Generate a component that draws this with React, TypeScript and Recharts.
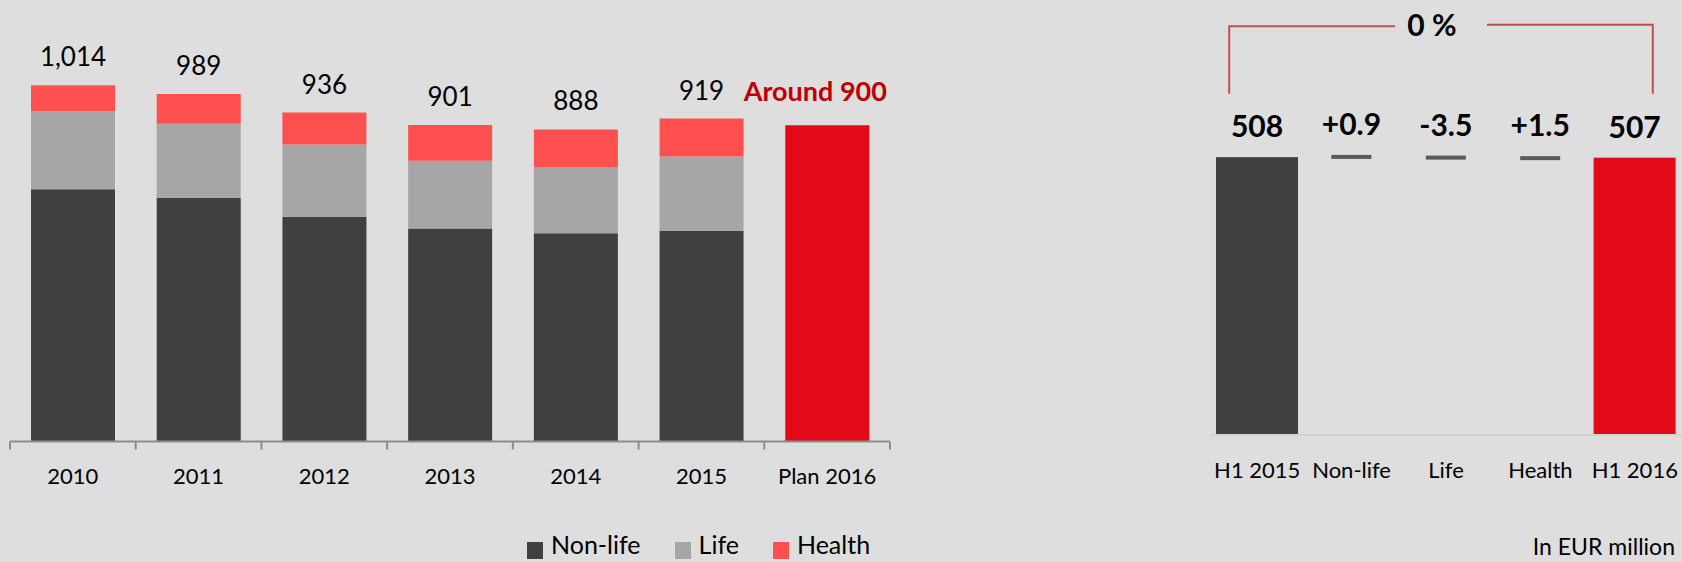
import { BarChart, Bar, XAxis, YAxis, LabelList, ReferenceLine } from 'recharts'

// left chart: yearly totals split by segment
const years = ['2010', '2011', '2012', '2013', '2014', '2015', 'Plan 2016']
const nonLife = [718, 694, 640, 606, 593, 600, null]
const life = [222, 210, 205, 193, 187, 211, null]
const health = [74, 85, 91, 102, 108, 108, null]
const totals = [1014, 989, 936, 901, 888, 919, null]
const plan = [null, null, null, null, null, null, 900]
const planLabel = 'Around 900'
const seriesNames = ['Non-life', 'Life', 'Health']
const seriesColors = ['#404040', '#a6a6a6', '#ff5050']
const planColor = '#e20a16'

// right chart: H1 bridge
const stepNames = ['H1 2015', 'Non-life', 'Life', 'Health', 'H1 2016']
const stepValues = [508, 0.9, -3.5, 1.5, 507]
const stepLabels = ['508', '+0.9', '-3.5', '+1.5', '507']
const changeLabel = '0 %'
const unitNote = 'In EUR million'

const FONT = 'Lato, "Open Sans", sans-serif'

const LEFT_W = 900
const LEFT_MARGIN = { top: 55, right: 10, bottom: 60.5, left: 10 }
const HALF_BAND = (LEFT_W - LEFT_MARGIN.left - LEFT_MARGIN.right) / years.length / 2

const yearRows = years.map((year, i) => ({
  year,
  nonLife: nonLife[i],
  life: life[i],
  health: health[i],
  plan: plan[i],
  total: totals[i],
  planLabel: plan[i] != null ? planLabel : null,
}))

let level = 0
const stepRows = stepNames.map((name, i) => {
  const isTotal = i === 0 || i === stepNames.length - 1
  const v = stepValues[i]
  if (isTotal) {
    level = v
    return { name, range: [0, v], kind: 'total', color: i === 0 ? '#404040' : planColor, label: stepLabels[i] }
  }
  const start = level
  level = level + v
  return { name, range: [Math.min(start, level), Math.max(start, level)], kind: 'delta', color: '#595959', label: stepLabels[i] }
})

const box = (p: any) => p.viewBox && p.viewBox.width != null ? p.viewBox : p

const TotalLabel = (p: any) => {
  if (p.value == null) return null
  const { x, y, width } = box(p)
  return (
    <text x={x + width / 2} y={y - 19} textAnchor="middle" fontFamily={FONT} fontSize={26} fill="#000">
      {Number(p.value).toLocaleString('en-US')}
    </text>
  )
}

const PlanLabel = (p: any) => {
  if (p.value == null) return null
  const { x, y, width } = box(p)
  return (
    <text x={x + width / 2 - 12} y={y - 24} textAnchor="middle" fontFamily={FONT} fontSize={27} fontWeight={700} fill="#c00000">
      {p.value}
    </text>
  )
}

const YearTick = (p: any) => {
  const { x, y, payload, index } = p
  return (
    <g>
      <line x1={x - HALF_BAND} y1={y} x2={x - HALF_BAND} y2={y + 8} stroke="#8c8c8c" strokeWidth={2} />
      {index === years.length - 1 && (
        <line x1={x + HALF_BAND} y1={y} x2={x + HALF_BAND} y2={y + 8} stroke="#8c8c8c" strokeWidth={2} />
      )}
      <text x={x} y={y + 42} textAnchor="middle" fontFamily={FONT} fontSize={22} fill="#000">
        {payload.value}
      </text>
    </g>
  )
}

const StepTick = (p: any) => (
  <text x={p.x} y={p.y + 43} textAnchor="middle" fontFamily={FONT} fontSize={22} fill="#000">
    {p.payload.value}
  </text>
)

const StepShape = (p: any) => {
  const { x, y, width, height, payload } = p
  if (payload.kind === 'delta') {
    const cy = y + height / 2
    return <rect x={x + width / 2 - 20} y={cy - 2} width={40} height={4} fill={payload.color} />
  }
  return <rect x={x} y={y} width={width} height={height} fill={payload.color} />
}

const StepLabel = (p: any) => {
  const row = stepRows[p.index]
  if (!row) return null
  const { x, y, width, height } = box(p)
  const top = row.kind === 'delta' ? y + height / 2 - 2 : y
  return (
    <text x={x + width / 2} y={top - 20} textAnchor="middle" fontFamily={FONT} fontSize={30} fontWeight={700} fill="#000">
      {row.label}
    </text>
  )
}

const Bracket = (p: any) => {
  const { x1, y1, x2 } = p
  const mid = (x1 + x2) / 2
  const left = x1 - 28
  const right = x2 + 18
  const foot = y1 + 69
  return (
    <g>
      <path d={`M${left},${foot} V${y1 + 1.5} H${mid - 51}`} fill="none" stroke="#c0504d" strokeWidth={2} />
      <path d={`M${mid + 41},${y1} H${right} V${foot}`} fill="none" stroke="#c0504d" strokeWidth={2} />
      <text x={mid - 14} y={y1 + 11} textAnchor="middle" fontFamily={FONT} fontSize={30} fontWeight={700} fill="#000">
        {changeLabel}
      </text>
    </g>
  )
}

export default function App() {
  return (
    <div style={{ position: 'absolute', left: 0, top: 0, width: 1682, height: 562, background: '#dedede', overflow: 'hidden', fontFamily: FONT }}>
      <div style={{ position: 'absolute', left: 0, top: 0 }}>
        <BarChart width={LEFT_W} height={562} data={yearRows} margin={LEFT_MARGIN} barSize={84}>
          <XAxis
            dataKey="year"
            height={60}
            interval={0}
            tickSize={0}
            tickMargin={0}
            tickLine={false}
            axisLine={{ stroke: '#8c8c8c', strokeWidth: 2 }}
            tick={<YearTick />}
          />
          <YAxis hide domain={[0, 1100]} />
          <Bar dataKey="nonLife" stackId="a" fill={seriesColors[0]} isAnimationActive={false} />
          <Bar dataKey="life" stackId="a" fill={seriesColors[1]} isAnimationActive={false} />
          <Bar dataKey="health" stackId="a" fill={seriesColors[2]} isAnimationActive={false}>
            <LabelList dataKey="total" content={TotalLabel} />
          </Bar>
          <Bar dataKey="plan" stackId="a" fill={planColor} isAnimationActive={false}>
            <LabelList dataKey="planLabel" content={PlanLabel} />
          </Bar>
        </BarChart>
      </div>

      <div style={{ position: 'absolute', left: 527, top: 534, display: 'flex', gap: 34, fontSize: 25, lineHeight: '21px', color: '#000' }}>
        {seriesNames.map((name, i) => (
          <div key={name} style={{ display: 'flex', alignItems: 'flex-start', gap: 8 }}>
            <div style={{ width: 16, height: 17, marginTop: 8, background: seriesColors[i] }} />
            <span>{name}</span>
          </div>
        ))}
      </div>

      <div style={{ position: 'absolute', right: 7, top: 533, fontSize: 23, lineHeight: 1.2, color: '#000' }}>
        {unitNote}
      </div>

      <div style={{ position: 'absolute', left: 1200, top: 0 }}>
        <BarChart width={482} height={562} data={stepRows} margin={{ top: 10, right: 0, bottom: 67, left: 10 }} barSize={82}>
          <XAxis
            dataKey="name"
            height={60}
            interval={0}
            tickSize={0}
            tickMargin={0}
            tickLine={false}
            axisLine={{ stroke: '#d3d3d3', strokeWidth: 2 }}
            tick={<StepTick />}
          />
          <YAxis hide domain={[0, 777]} />
          <ReferenceLine
            segment={[{ x: stepNames[0], y: 750 }, { x: stepNames[stepNames.length - 1], y: 750 }]}
            ifOverflow="visible"
            shape={Bracket}
          />
          <Bar dataKey="range" shape={StepShape} isAnimationActive={false}>
            <LabelList dataKey="label" content={StepLabel} />
          </Bar>
        </BarChart>
      </div>
    </div>
  )
}
